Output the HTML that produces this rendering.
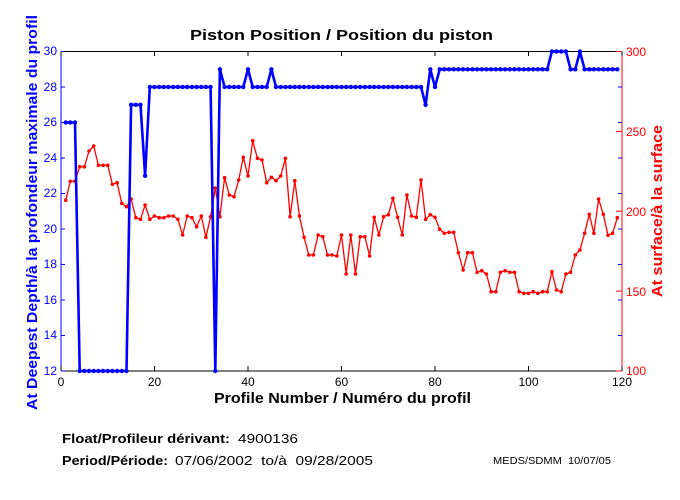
<!DOCTYPE html>
<html><head><meta charset="utf-8"><style>
body{margin:0;background:#fff;}
svg{display:block;font-family:"Liberation Sans",sans-serif;}
</style></head><body>
<svg id="s" width="680" height="500" viewBox="0 0 680 500" xmlns="http://www.w3.org/2000/svg">
<rect width="680" height="500" fill="#fff"/>
<text x="190" y="40" font-size="15" font-weight="bold" textLength="303" lengthAdjust="spacingAndGlyphs">Piston Position / Position du piston</text>
<line x1="61" y1="51.5" x2="622" y2="51.5" stroke="#000"/>
<line x1="61" y1="371" x2="622" y2="371" stroke="#000"/>
<line x1="61" y1="51.5" x2="61" y2="371" stroke="#00f"/>
<line x1="622" y1="51.5" x2="622" y2="371" stroke="#f00"/>
<g id="ticks"></g>
<g font-size="12" fill="#00f" text-anchor="end">
<text x="57" y="55">30</text><text x="57" y="91">28</text><text x="57" y="126">26</text><text x="57" y="162">24</text><text x="57" y="197">22</text><text x="57" y="233">20</text><text x="57" y="268">18</text><text x="57" y="304">16</text><text x="57" y="339">14</text><text x="57" y="375">12</text>
</g>
<g font-size="12" fill="#f00">
<text x="626" y="56">300</text><text x="626" y="136">250</text><text x="626" y="216">200</text><text x="626" y="296">150</text><text x="626" y="375">100</text>
</g>
<g font-size="12" fill="#000" text-anchor="middle">
<text x="61" y="386">0</text><text x="154.5" y="386">20</text><text x="248" y="386">40</text><text x="341.5" y="386">60</text><text x="435" y="386">80</text><text x="528.5" y="386">100</text><text x="622" y="386">120</text>
</g>
<text x="214" y="403" font-size="15" font-weight="bold" textLength="257" lengthAdjust="spacingAndGlyphs">Profile Number / Numéro du profil</text>
<text transform="translate(37,410) rotate(-90)" font-size="15" font-weight="bold" fill="#00f" textLength="395" lengthAdjust="spacingAndGlyphs">At Deepest Depth/à la profondeur maximale du profil</text>
<text transform="translate(662,297) rotate(-90)" font-size="15" font-weight="bold" fill="#f00" textLength="172" lengthAdjust="spacingAndGlyphs">At surface/à la surface</text>
<g id="data"></g>
<text x="62" y="443" font-size="13" font-weight="bold" textLength="168" lengthAdjust="spacingAndGlyphs">Float/Profileur dérivant:</text>
<text x="238" y="443" font-size="13" textLength="60" lengthAdjust="spacingAndGlyphs">4900136</text>
<text x="62" y="465" font-size="13" font-weight="bold" textLength="106" lengthAdjust="spacingAndGlyphs">Period/Période:</text>
<text x="175" y="465" font-size="13" textLength="198" lengthAdjust="spacingAndGlyphs">07/06/2002&#160; to/à&#160; 09/28/2005</text>
<text x="493" y="464" font-size="10" textLength="118" lengthAdjust="spacingAndGlyphs">MEDS/SDMM&#160; 10/07/05</text>
</svg>
<script>
function X(n){return 61+n*4.675;}
function YL(v){return 371-(v-12)*17.75;}
var t=document.getElementById("ticks"),h="";
for(var v=12;v<=30;v+=2){var y=YL(v);h+='<line x1="61" y1="'+y+'" x2="65" y2="'+y+'" stroke="#00f"/><line x1="618" y1="'+y+'" x2="622" y2="'+y+'" stroke="#00f"/>';}
for(var r=100;r<=300;r+=50){var y=371-(r-100)*1.5975;h+='<line x1="616" y1="'+y+'" x2="622" y2="'+y+'" stroke="#f00"/>';}
for(var k=0;k<=120;k+=20){var x=X(k);h+='<line x1="'+x+'" y1="371" x2="'+x+'" y2="366" stroke="#000"/><line x1="'+x+'" y1="51.5" x2="'+x+'" y2="56" stroke="#000"/>';}
t.innerHTML=h;
var b=[];
for(var n=1;n<=119;n++){var v;
if(n<=3)v=26;else if(n<=14)v=12;else if(n<=17)v=27;else if(n==18)v=23;else if(n<=32)v=28;else if(n==33)v=12;else if(n==34)v=29;else if(n==40||n==45)v=29;else if(n<=77)v=28;else if(n==78)v=27;else if(n==79)v=29;else if(n==80)v=28;else if(n<=104)v=29;else if(n<=108)v=30;else if(n<=110)v=29;else if(n==111)v=30;else v=29;
b.push([X(n),YL(v)]);}
var r1=[481,424,424,380,380,333,318,376,376,376,433,428,490,500,477,533,538,495,538,528,533,533,528,528,538,585,528,533,560,528,592,530,444,530,413,465,470,420,352,408,302,355,360,428,412,422,408,355,530,422,528,592,645,645,585,590,645,645,648,585];
var r2=[702,585,702,590,590,648,532,585,530,524,475,532,585,465,528,532,420,538,524,532,568,580,577,577,638,690,638,638,697,692,702,755,755,697,692,697,697,755,760,760,755,760,755,755,695,750,755,702,697,645,630,580,523,580,477,523,586,580,533];
var rz=r1.concat(r2),rp=[];
for(var i=0;i<rz.length;i++)rp.push([X(i+1),40+rz[i]/3]);
function pl(p,c,w,m){var s=p.map(function(q){return q[0].toFixed(1)+","+q[1].toFixed(1)}).join(" ");
var o='<polyline points="'+s+'" fill="none" stroke="'+c+'" stroke-width="'+w+'" stroke-linejoin="round"/>';
p.forEach(function(q){o+='<circle cx="'+q[0].toFixed(1)+'" cy="'+q[1].toFixed(1)+'" r="'+m+'" fill="'+c+'"/>';});return o;}
document.getElementById("data").innerHTML=pl(rp,"#f00",1.3,1.8)+pl(b,"#00f",2.6,2.2);
</script>
</body></html>
